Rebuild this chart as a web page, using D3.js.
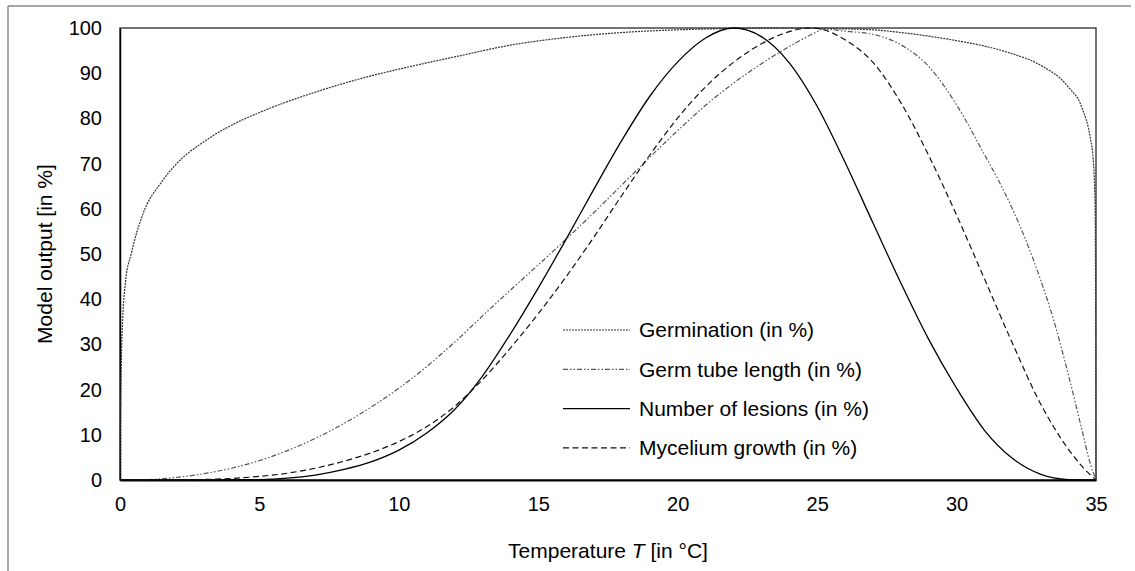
<!DOCTYPE html>
<html>
<head>
<meta charset="utf-8">
<script src="https://cdn.jsdelivr.net/npm/d3@7"></script>
<style>
  body { margin: 0; background: #fff; }
  text { font-family: "Liberation Sans", Arial, sans-serif; fill: #000; }
</style>
</head>
<body>
<div id="chart"></div>
<script>
// temperatures (°C) and model outputs (%)
const germT   = [0, 0.02, 0.05, 0.1, 0.2, 0.4, 0.8, 1.5, 2, 3, 4, 5, 6, 7, 8, 9, 10, 12, 14, 16, 18, 20, 22, 24, 26, 27, 28, 29, 30, 31, 32, 33, 34, 34.5, 34.8, 34.9, 34.97, 35];
const germV   = [0, 15, 27, 36, 44, 50, 58.5, 66, 69.8, 74.8, 78.5, 81.3, 83.7, 85.8, 87.7, 89.4, 90.9, 93.6, 96.2, 97.9, 99.0, 99.6, 99.9, 100, 99.8, 99.6, 99.0, 98.2, 97.2, 96.0, 94.3, 91.8, 87.0, 82.3, 75.5, 71, 60, 0];

const tubeT   = [0, 1, 2, 3, 4, 5, 6, 7, 8, 9, 10, 11, 12, 13, 14, 15, 16, 17, 18, 19, 20, 21, 22, 23, 24, 25, 25.2, 26, 27, 28, 29, 30, 31, 31.5, 32, 32.5, 33, 33.5, 34, 34.5, 34.8, 35];
const tubeV   = [0, 0.1, 0.55, 1.4, 2.6, 4.3, 6.5, 9.2, 12.4, 16.1, 20.3, 25.1, 30.5, 36.3, 42.0, 47.6, 53.3, 59.2, 65.3, 71.4, 77.3, 82.9, 87.8, 92.1, 95.9, 99.2, 99.8, 99.3, 98.6, 96.3, 91.5, 83.0, 72.0, 66.3, 60.0, 52.8, 44.5, 35.0, 23.5, 11.0, 3.5, 0];

const lesT    = [0, 3, 5, 6, 7, 8, 9, 10, 11, 12, 13, 14, 15, 16, 17, 18, 19, 20, 21, 22, 23, 24, 25, 26, 27, 28, 29, 30, 31, 32, 33, 34, 35];
const lesV    = [0, 0, 0.1, 0.4, 1.1, 2.3, 4.0, 6.6, 10.4, 15.6, 23.0, 32.3, 42.5, 53.3, 64.4, 75.2, 84.9, 92.5, 97.8, 100, 98.1, 92.3, 82.7, 70.3, 56.9, 43.6, 31.1, 20.3, 11.0, 4.8, 1.3, 0.1, 0];

const mycT    = [0, 2, 3, 4, 5, 6, 7, 8, 9, 10, 11, 12, 13, 14, 15, 16, 17, 18, 19, 20, 21, 22, 23, 24, 24.7, 25, 26, 27, 28, 29, 30, 31, 32, 33, 34, 34.5, 35];
const mycV    = [0, 0.03, 0.12, 0.35, 0.8, 1.5, 2.6, 4.1, 6.0, 8.5, 11.8, 16.3, 22.2, 29.2, 36.8, 45.0, 53.8, 63.0, 71.9, 80.1, 87.0, 92.4, 96.5, 99.2, 100, 99.9, 97.4, 92.4, 83.5, 71.8, 58.6, 44.5, 30.3, 17.0, 6.9, 3.0, 0];

const seriesNames = ["Germination (in %)", "Germ tube length (in %)", "Number of lesions (in %)", "Mycelium growth (in %)"];
const xTicks = [0, 5, 10, 15, 20, 25, 30, 35];
const yTicks = [0, 10, 20, 30, 40, 50, 60, 70, 80, 90, 100];

var width = 1135;
var height = 571;
var margin = {left: 120, right: 39, top: 28, bottom: 91};

const styles = [
    {stroke: "#333", dash: "2,1", w: 1.2},
    {stroke: "#555", dash: "5,2,1.5,2,1.5,2", w: 1.2},
    {stroke: "#000", dash: null, w: 1.3},
    {stroke: "#111", dash: "6,3.5", w: 1.2}
];

function zip(ts, vs) {
    return ts.map((t, i) => ({t: t, v: vs[i]}));
}
const series = [zip(germT, germV), zip(tubeT, tubeV), zip(lesT, lesV), zip(mycT, mycV)];

var svg = d3.select("#chart")
    .append("svg")
    .attr("width", width)
    .attr("height", height);

// chart-area frame, only left and top show in the crop
svg.append("line").attr("x1", 8).attr("y1", 6).attr("x2", 1131).attr("y2", 6)
    .attr("stroke", "#8a8a8a").attr("stroke-width", 1.5);
svg.append("line").attr("x1", 8).attr("y1", 6).attr("x2", 8).attr("y2", height)
    .attr("stroke", "#8a8a8a").attr("stroke-width", 1.5);

var x = d3.scaleLinear().domain([0, 35]).range([margin.left, width - margin.right]);
var y = d3.scaleLinear().domain([0, 100]).range([height - margin.bottom, margin.top]);

// plot-area border
svg.append("rect")
    .attr("x", x(0)).attr("y", y(100))
    .attr("width", x(35) - x(0)).attr("height", y(0) - y(100))
    .attr("fill", "none")
    .attr("stroke", "#3a3a3a")
    .attr("stroke-width", 1.4);

var xAxis = svg.append("g")
    .attr("transform", "translate(0," + y(0) + ")")
    .call(d3.axisBottom(x).tickValues(xTicks).tickSize(0).tickPadding(17));
xAxis.select(".domain").attr("stroke", "#000").attr("stroke-width", 1.8);
xAxis.selectAll("text").style("font-size", "20px");

var yAxis = svg.append("g")
    .attr("transform", "translate(" + x(0) + ",0)")
    .call(d3.axisLeft(y).tickValues(yTicks).tickSize(0).tickPadding(18));
yAxis.select(".domain").attr("stroke", "#000").attr("stroke-width", 1.5);
yAxis.selectAll("text").style("font-size", "20px");

var line = d3.line()
    .x(d => x(d.t))
    .y(d => y(d.v))
    .curve(d3.curveMonotoneX);

svg.append("g")
    .selectAll("path")
    .data(series)
    .enter().append("path")
    .attr("d", line)
    .attr("fill", "none")
    .attr("stroke", (d, i) => styles[i].stroke)
    .attr("stroke-width", (d, i) => styles[i].w)
    .attr("stroke-dasharray", (d, i) => styles[i].dash);

// legend
var legend = svg.append("g").selectAll("g")
    .data(seriesNames)
    .enter().append("g")
    .attr("transform", (d, i) => "translate(563," + (330 + i * 39.3) + ")");

legend.append("line")
    .attr("x1", 0).attr("x2", 67)
    .attr("stroke", (d, i) => styles[i].stroke)
    .attr("stroke-width", (d, i) => styles[i].w)
    .attr("stroke-dasharray", (d, i) => styles[i].dash);

legend.append("text")
    .attr("x", 76)
    .attr("dy", "0.35em")
    .style("font-size", "21px")
    .text(d => d);

// axis titles
var xt = svg.append("text")
    .attr("x", (x(0) + x(35)) / 2)
    .attr("y", 551)
    .attr("dy", "0.35em")
    .attr("text-anchor", "middle")
    .style("font-size", "21px");
xt.append("tspan").text("Temperature ");
xt.append("tspan").style("font-style", "italic").text("T");
xt.append("tspan").text(" [in °C]");

svg.append("text")
    .attr("transform", "translate(45," + (y(0) + y(100)) / 2 + ") rotate(-90)")
    .attr("dy", "0.35em")
    .attr("text-anchor", "middle")
    .style("font-size", "21px")
    .text("Model output [in %]");
</script>
</body>
</html>
